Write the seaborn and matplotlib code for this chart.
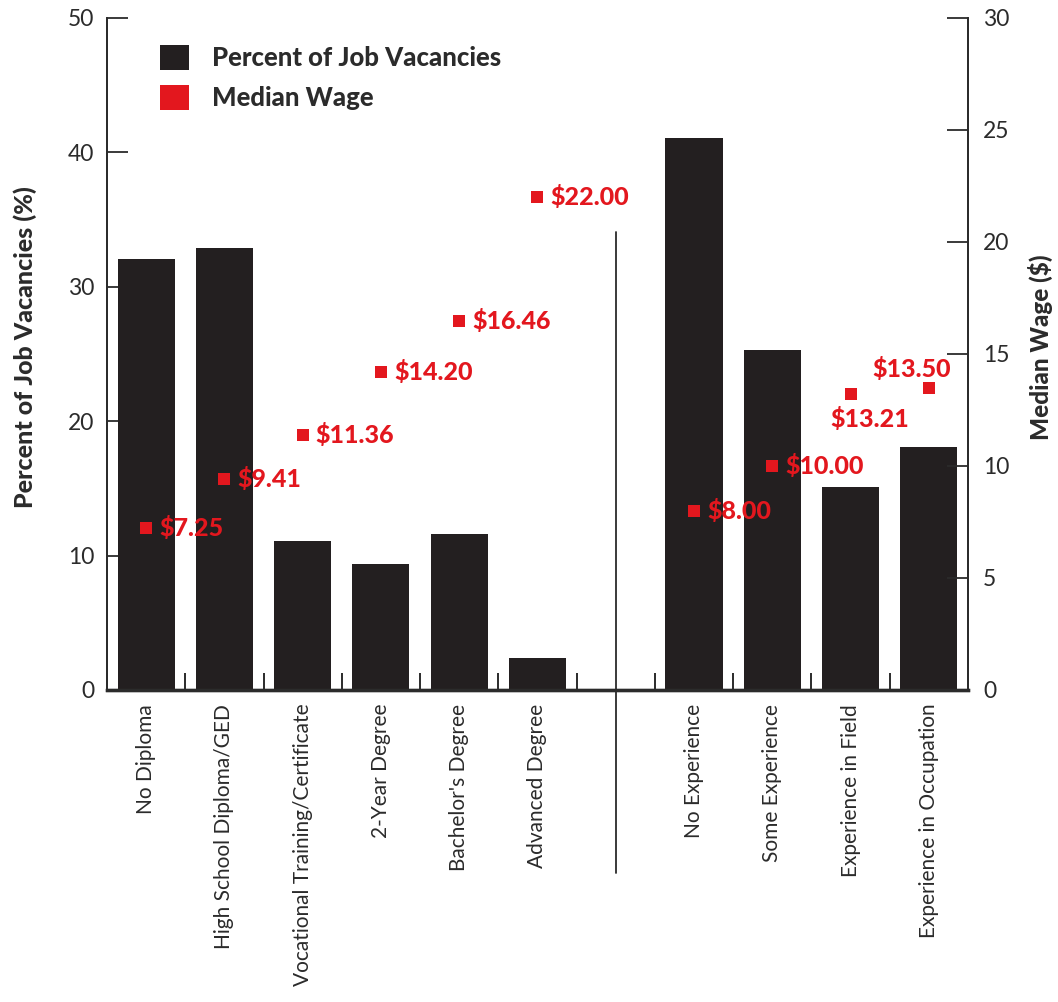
import numpy as np
import pandas as pd
import matplotlib
matplotlib.use("Agg")
import matplotlib.pyplot as plt
from matplotlib.patches import Patch
import seaborn as sns

# --- data -------------------------------------------------------------
education = ["No Diploma", "High School Diploma/GED", "Vocational Training/Certificate",
             "2-Year Degree", "Bachelor's Degree", "Advanced Degree"]
experience = ["No Experience", "Some Experience", "Experience in Field",
              "Experience in Occupation"]

edu_vacancy_pct = [32.1, 32.9, 11.1, 9.4, 11.6, 2.4]
exp_vacancy_pct = [41.1, 25.3, 15.1, 18.1]

edu_median_wage = [7.25, 9.41, 11.36, 14.20, 16.46, 22.00]
exp_median_wage = [8.00, 10.00, 13.21, 13.50]

left_ticks = [0, 10, 20, 30, 40, 50]
right_ticks = [0, 5, 10, 15, 20, 25, 30]

# --- table ------------------------------------------------------------
SPACER = " "
order = education + [SPACER] + experience
df = pd.DataFrame({
    "category": education + experience,
    "vacancy": edu_vacancy_pct + exp_vacancy_pct,
    "wage": edu_median_wage + exp_median_wage,
})

BAR = "#231f20"
RED = "#e3171e"
INK = "#2b2b2b"

sns.set_style("ticks")
plt.rcParams["font.family"] = ["Lato", "DejaVu Sans"]

fig = plt.figure(figsize=(10.58, 10.02), dpi=100)
ax = fig.add_axes([0.1011, 0.3114, 0.8138, 0.6707])

sns.barplot(data=df, x="category", y="vacancy", order=order, color=BAR,
            saturation=1, width=0.73, edgecolor="none", ax=ax)

ax2 = ax.twinx()
sns.stripplot(data=df, x="category", y="wage", order=order, color=RED,
              jitter=False, marker="s", size=8.2, linewidth=0, ax=ax2, zorder=5)

for a in (ax, ax2):
    a.set_xlim(-0.5, len(order) - 0.5)
    a.set_xlabel("")
ax.set_ylim(0, 50)
ax2.set_ylim(0, 30)
ax.set_yticks(left_ticks)
ax2.set_yticks(right_ticks)

# category labels, blank under the separator slot
ax.set_xticks(range(len(order)))
ax.set_xticklabels([c if c != SPACER else "" for c in order], rotation=90,
                   fontsize=15, color=INK, va="top", ha="center")
ax.tick_params(axis="x", which="major", length=0, pad=10)
ax.set_xticks(np.arange(-0.5, len(order), 1.0), minor=True)
ax.tick_params(axis="x", which="minor", direction="in", length=12,
               width=1.4, color=INK)

ax.tick_params(axis="y", direction="in", length=15, width=1.3, color=INK,
               labelsize=16.5, labelcolor=INK, pad=9)
ax2.tick_params(axis="y", direction="in", length=15, width=1.3, color=INK,
                labelsize=16.5, labelcolor=INK, pad=11)

for a in (ax, ax2):
    a.spines["top"].set_visible(False)
    for s in ("left", "right"):
        a.spines[s].set_linewidth(1.3)
        a.spines[s].set_color(INK)
    a.spines["bottom"].set_linewidth(2.4)
    a.spines["bottom"].set_color(INK)

ax.set_ylabel("")
ax2.set_ylabel("")
fig.text(0.024, 1 - 347 / 1002, "Percent of Job Vacancies (%)", rotation=90,
         ha="center", va="center", fontsize=18, fontweight="black", color=INK)
fig.text(0.983, 1 - 347 / 1002, "Median Wage ($)", rotation=90,
         ha="center", va="center", fontsize=17.5, fontweight="black", color=INK)

# separator between the education and experience groups
ax.axvline(order.index(SPACER), ymin=-0.272, ymax=0.6815, color=INK,
           linewidth=1.3, clip_on=False)

# wage value labels
offsets = {13.21: (19, -25, "center"), 13.50: (-17, 19, "center")}
for cat, w in zip(df["category"], df["wage"]):
    dx, dy, ha = offsets.get(w, (13, 0, "left"))
    ax2.annotate(f"${w:.2f}", xy=(order.index(cat), w), xytext=(dx, dy),
                 textcoords="offset pixels", ha=ha, va="center",
                 fontsize=18, fontweight="black", color=RED, zorder=6)

handles = [Patch(facecolor=BAR, edgecolor="none", label="Percent of Job Vacancies"),
           Patch(facecolor=RED, edgecolor="none", label="Median Wage")]
leg = ax.legend(handles=handles, loc="upper left",
                bbox_to_anchor=(160 / 1058, 1 - 45 / 1002),
                bbox_transform=fig.transFigure, frameon=False,
                handlelength=1.13, handleheight=1.13, handletextpad=0.9,
                labelspacing=0.56, borderaxespad=0, borderpad=0,
                prop={"size": 18.5, "weight": "black"})
for t in leg.get_texts():
    t.set_color(INK)

fig.savefig("out.png", dpi=100, facecolor="white")
